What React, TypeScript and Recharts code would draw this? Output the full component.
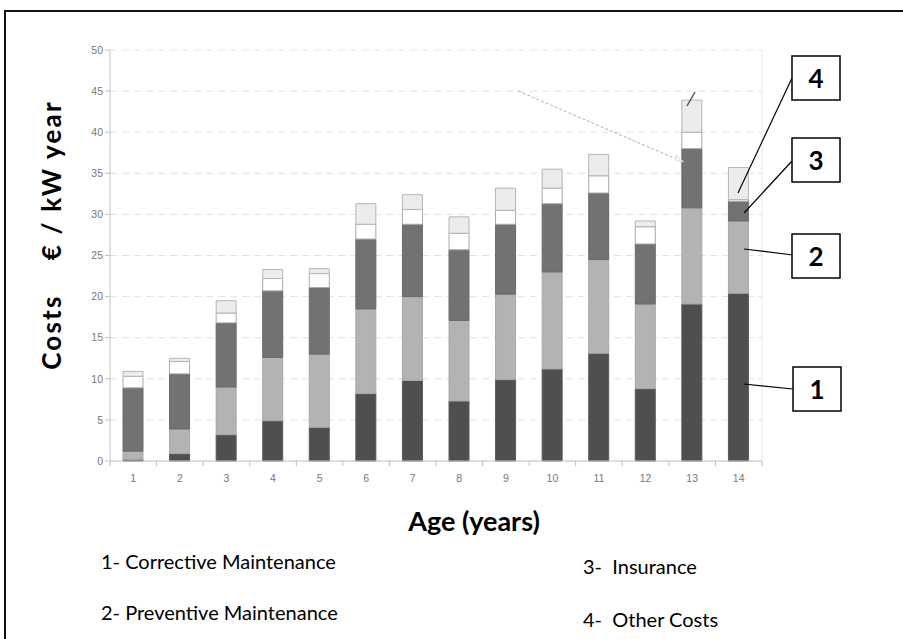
import React from 'react';
import { BarChart, Bar, XAxis, YAxis, CartesianGrid } from 'recharts';

const ages = ['1', '2', '3', '4', '5', '6', '7', '8', '9', '10', '11', '12', '13', '14'];
const corrective = [0.2, 0.9, 3.2, 4.9, 4.1, 8.2, 9.8, 7.3, 9.9, 11.2, 13.1, 8.8, 19.1, 20.4];
const preventive = [1.0, 3.0, 5.8, 7.7, 8.9, 10.3, 10.2, 9.8, 10.4, 11.8, 11.4, 10.3, 11.7, 8.8];
const insurance = [7.7, 6.7, 7.8, 8.1, 8.1, 8.5, 8.8, 8.6, 8.5, 8.3, 8.1, 7.3, 7.2, 2.4];
const otherA = [1.4, 1.5, 1.2, 1.5, 1.7, 1.8, 1.8, 2.0, 1.7, 1.9, 2.1, 2.1, 2.0, 0.2];
const otherB = [0.6, 0.4, 1.5, 1.1, 0.6, 2.5, 1.8, 2.0, 2.7, 2.3, 2.6, 0.7, 3.9, 3.9];
const yTicks = [0, 5, 10, 15, 20, 25, 30, 35, 40, 45, 50];

const legendLeft = ['1- Corrective Maintenance', '2- Preventive Maintenance'];
const legendRight = ['3-  Insurance', '4-  Other Costs'];
const calloutLabels = ['4', '3', '2', '1'];

const data = ages.map((a, i) => ({
  age: a,
  corrective: corrective[i],
  preventive: preventive[i],
  insurance: insurance[i],
  otherA: otherA[i],
  otherB: otherB[i],
}));

const STEP = 652 / 14;

const XTick = (props: any) => {
  const { x, y, payload, index } = props;
  const ay = y - 8;
  return (
    <g>
      <text x={x} y={y + 13} textAnchor="middle" fontSize={10.5} fill="#777" fontFamily="Liberation Sans, Arial, sans-serif">
        {payload.value}
      </text>
      <line x1={x + STEP / 2} x2={x + STEP / 2} y1={ay} y2={ay + 5} stroke="#bdbdbd" />
      {index === 0 ? <line x1={x - STEP / 2} x2={x - STEP / 2} y1={ay} y2={ay + 5} stroke="#bdbdbd" /> : null}
    </g>
  );
};

const font = 'Lato, "Open Sans", sans-serif';

export default function App() {
  return (
    <div style={{ position: 'fixed', left: 0, top: 0, width: 903, height: 639, background: '#fff', overflow: 'hidden' }}>
      <div style={{ position: 'absolute', left: 4, top: 10, width: 1000, height: 800, border: '2px solid #111', boxSizing: 'border-box' }} />
      <div style={{ position: 'absolute', left: 0, top: 0 }}>
        <BarChart width={903} height={639} data={data} margin={{ top: 50, right: 140, bottom: 148, left: 80 }} barSize={20}>
          <CartesianGrid vertical={false} strokeDasharray="7 5" stroke="#e2e2e2" />
          <XAxis dataKey="age" height={30} tick={<XTick />} tickLine={false} axisLine={{ stroke: '#c4c4c4' }} interval={0} />
          <YAxis
            width={30}
            domain={[0, 50]}
            ticks={yTicks}
            interval={0}
            tickSize={5}
            tick={{ fontSize: 10.5, fill: '#777', fontFamily: 'Liberation Sans, Arial, sans-serif' }}
            tickLine={{ stroke: '#c4c4c4' }}
            axisLine={{ stroke: '#c4c4c4' }}
          />
          <YAxis yAxisId="r" orientation="right" width={1} tick={false} tickLine={false} axisLine={{ stroke: '#e6e6e6' }} />
          <Bar dataKey="corrective" stackId="a" fill="#4f4f4f" stroke="#5a5a5a" strokeWidth={1} isAnimationActive={false} />
          <Bar dataKey="preventive" stackId="a" fill="#b3b3b3" stroke="#a8a8a8" strokeWidth={1} isAnimationActive={false} />
          <Bar dataKey="insurance" stackId="a" fill="#727272" stroke="#6a6a6a" strokeWidth={1} isAnimationActive={false} />
          <Bar dataKey="otherA" stackId="a" fill="#ffffff" stroke="#a9a9a9" strokeWidth={1} isAnimationActive={false} />
          <Bar dataKey="otherB" stackId="a" fill="#ececec" stroke="#b5b5b5" strokeWidth={1} isAnimationActive={false} />
        </BarChart>
      </div>
      <svg width={903} height={639} style={{ position: 'absolute', left: 0, top: 0, pointerEvents: 'none' }}>
        <line x1={518} y1={91} x2={681} y2={161} stroke="#9a9a9a" strokeWidth={0.8} strokeDasharray="3 2" />
        <polygon points="676,155 684,162 675,160" fill="#f4f4f4" stroke="#cfcfcf" strokeWidth={0.6} />
        <line x1={687} y1={106} x2={695} y2={92} stroke="#555" strokeWidth={1.5} />
        <text
          transform="translate(61,235) rotate(-90)"
          textAnchor="middle"
          fontFamily={font}
          fontWeight={700}
          fontSize={26}
          letterSpacing={2.2}
          fill="#000"
          style={{ whiteSpace: 'pre' }}
        >
          {'Costs    € / kW year'}
        </text>
        <text x={474} y={531} textAnchor="middle" fontFamily={font} fontWeight={700} fontSize={27} fill="#000">
          Age (years)
        </text>
        <text x={101} y={569} fontFamily={font} fontSize={20} fill="#000">{legendLeft[0]}</text>
        <text x={101} y={620} fontFamily={font} fontSize={20} fill="#000">{legendLeft[1]}</text>
        <text x={583} y={574} fontFamily={font} fontSize={20} fill="#000" style={{ whiteSpace: 'pre' }}>{legendRight[0]}</text>
        <text x={583} y={627} fontFamily={font} fontSize={20} fill="#000" style={{ whiteSpace: 'pre' }}>{legendRight[1]}</text>
        {[
          { bx: 792, by: 56, lx1: 792, ly1: 78, lx2: 738, ly2: 193 },
          { bx: 792, by: 138, lx1: 792, ly1: 161, lx2: 744, ly2: 213 },
          { bx: 792, by: 234, lx1: 793, ly1: 255, lx2: 744, ly2: 249 },
          { bx: 793, by: 367, lx1: 793, ly1: 389, lx2: 744, ly2: 384 },
        ].map((c, i) => (
          <g key={i}>
            <line x1={c.lx1} y1={c.ly1} x2={c.lx2} y2={c.ly2} stroke="#000" strokeWidth={1.2} />
            <rect x={c.bx} y={c.by} width={48} height={44} fill="#fff" stroke="#000" strokeWidth={1.5} />
            <text x={c.bx + 24} y={c.by + 32} textAnchor="middle" fontFamily={font} fontWeight={700} fontSize={26} fill="#000">
              {calloutLabels[i]}
            </text>
          </g>
        ))}
      </svg>
    </div>
  );
}
